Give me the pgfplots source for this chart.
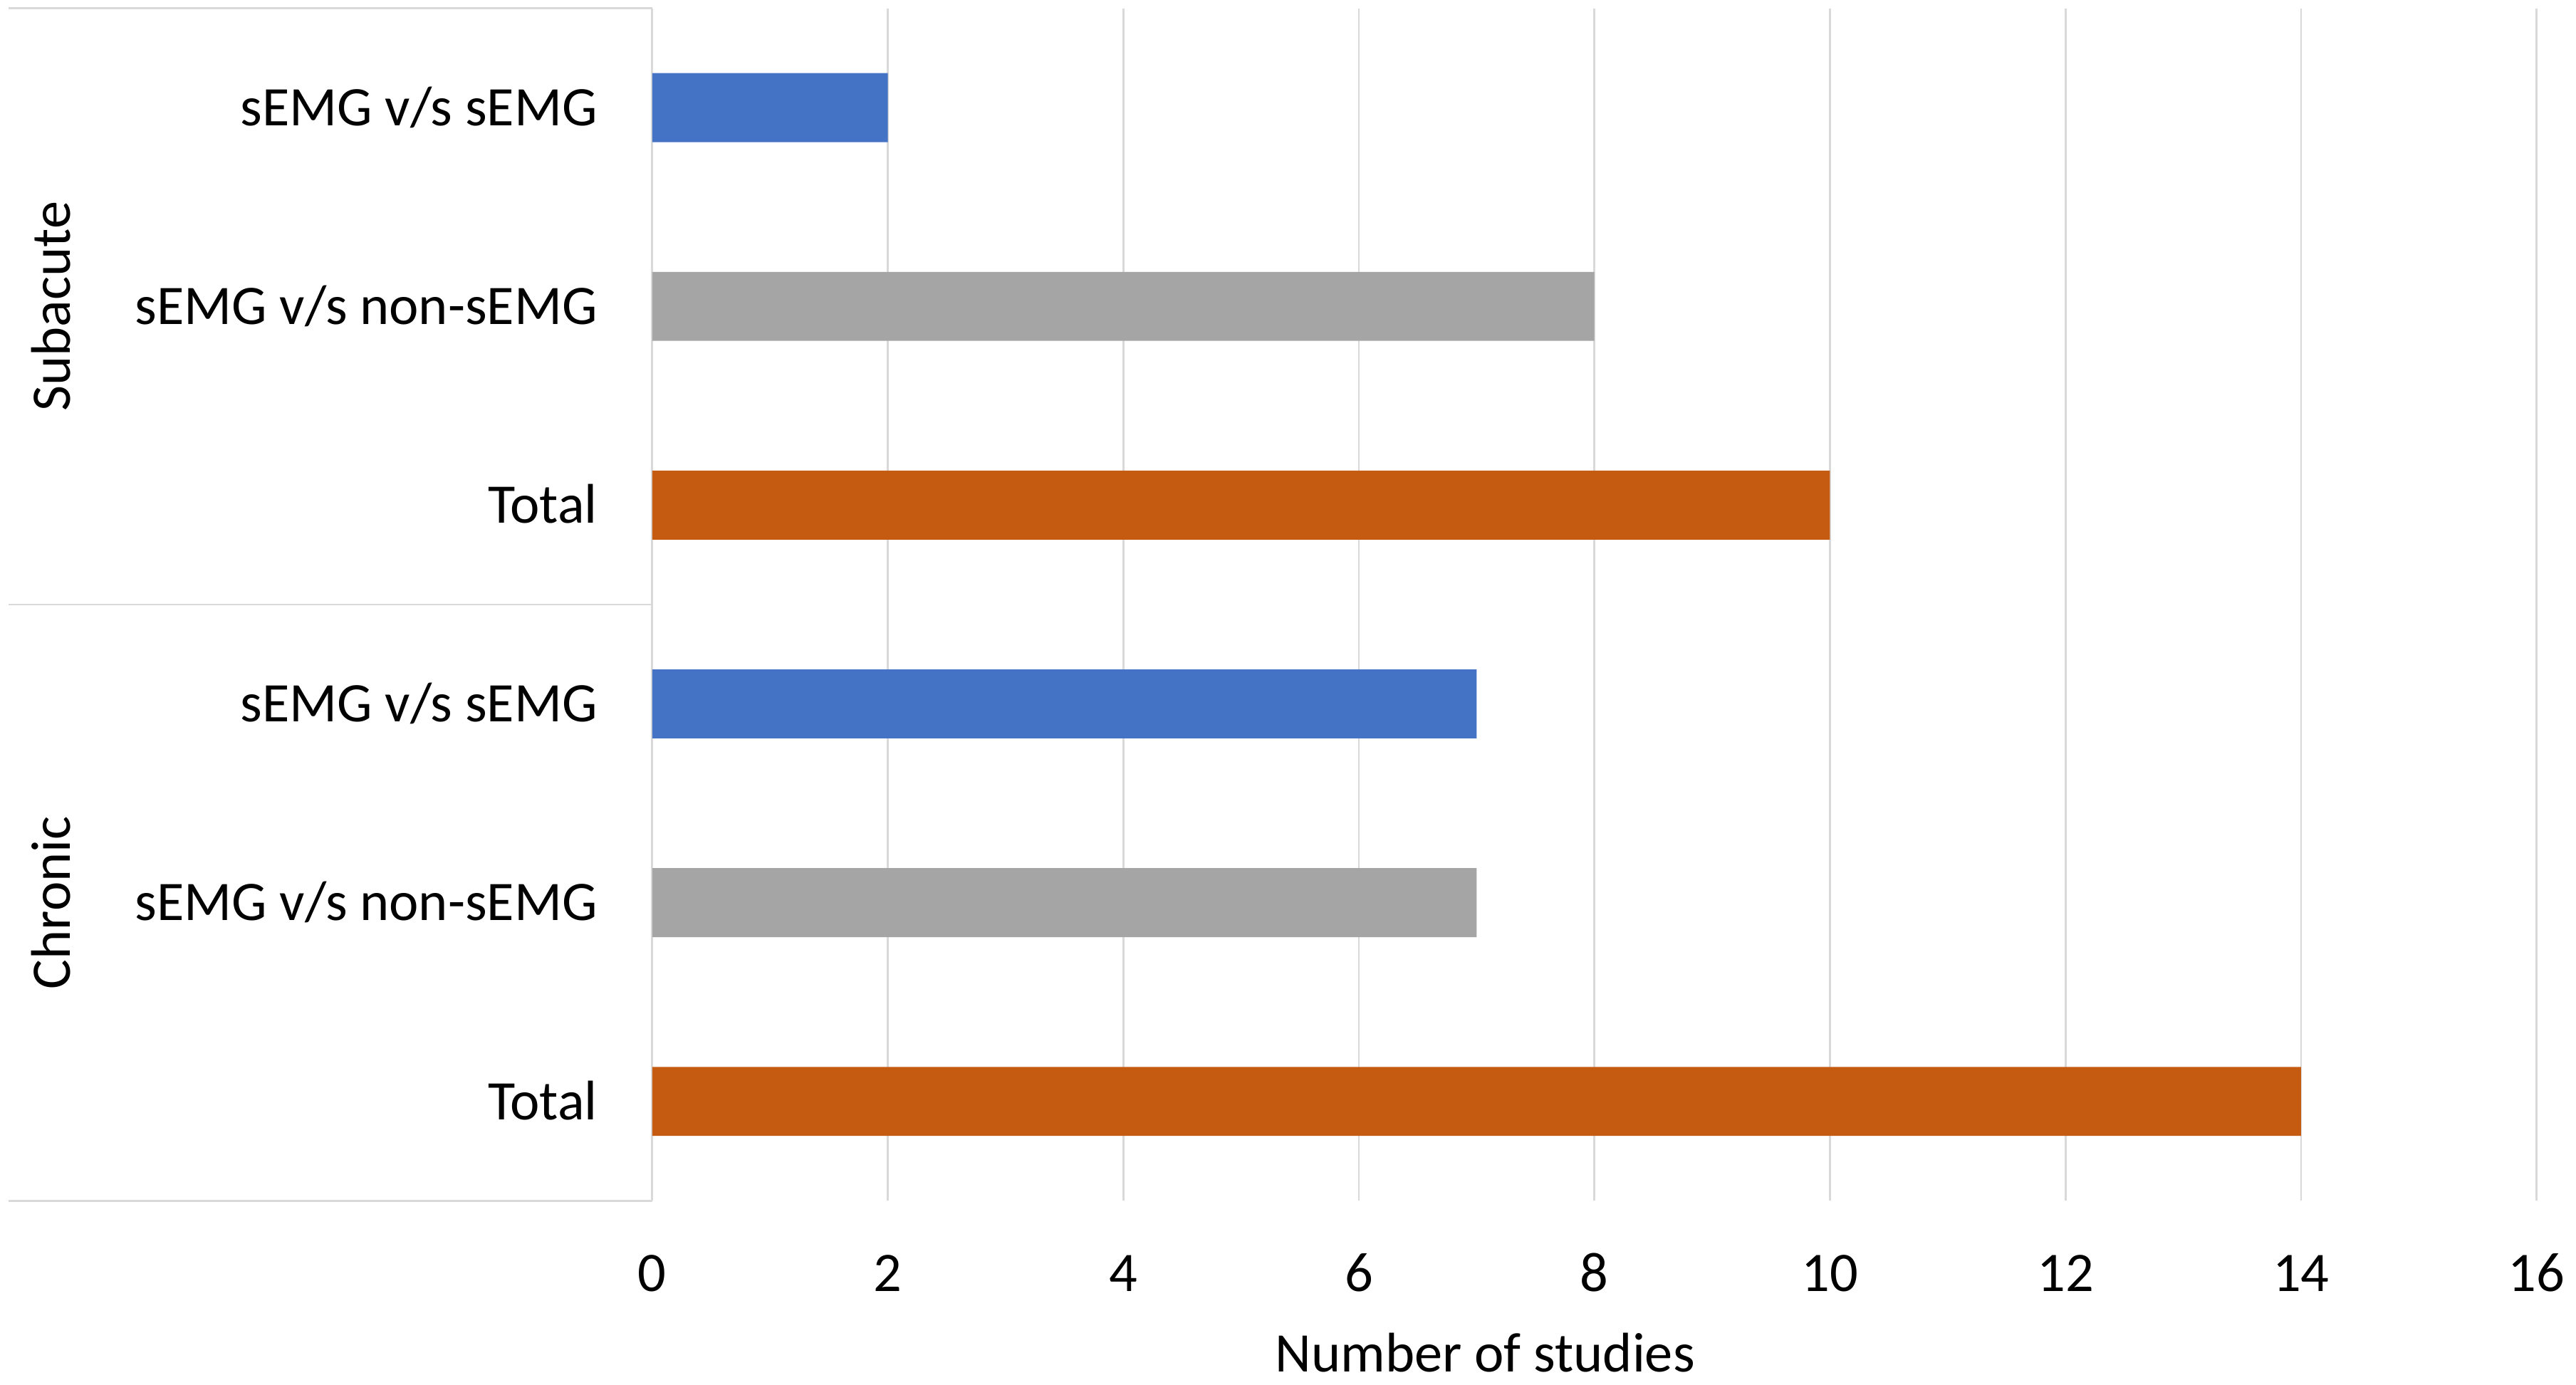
\documentclass[border=0pt]{standalone}
\usepackage{fontspec}
\setmainfont{Carlito}
\usepackage{pgfplots}
\pgfplotsset{compat=1.18}
\definecolor{cblue}{HTML}{4472C4}
\definecolor{cgray}{HTML}{A5A5A5}
\definecolor{corange}{HTML}{C55A11}
\definecolor{gridgray}{HTML}{D9D9D9}
\begin{document}
\fontsize{17}{20}\selectfont
\begin{tikzpicture}
\useasboundingbox (-198.5pt,-56pt) rectangle (585.5pt,365.5pt);
\begin{axis}[
  at={(0,0)}, anchor=south west,
  scale only axis, width=573.5pt, height=363pt,
  xmin=0, xmax=16, xtick={0,2,...,16},
  ymin=-0.5, ymax=5.5, y dir=reverse,
  ytick={0,...,5},
  yticklabels={sEMG v/s sEMG, sEMG v/s non-sEMG, Total, sEMG v/s sEMG, sEMG v/s non-sEMG, Total},
  xmajorgrids, grid style={color=gridgray, line width=0.6pt},
  axis line style={draw=none},
  major tick length=0pt,
  tick style={draw=none},
  /pgf/number format/assume math mode=true,
  xticklabel style={anchor=base, inner sep=0pt, yshift=-27.5pt},
  yticklabel style={anchor=base east, inner sep=0pt, xshift=-16.5pt, yshift=-5.5pt},
  xlabel={Number of studies},
  xlabel style={at={(rel axis cs:0.442,0)}, anchor=base, inner sep=0pt, yshift=-52pt},
  clip=false,
]
\addplot[xbar, bar width=21pt, bar shift=0pt, fill=cblue, draw=none] coordinates {(2,0) (7,3)};
\addplot[xbar, bar width=21pt, bar shift=0pt, fill=cgray, draw=none] coordinates {(8,1) (7,4)};
\addplot[xbar, bar width=21pt, bar shift=0pt, fill=corange, draw=none] coordinates {(10,2) (14,5)};
\draw[gridgray, line width=0.6pt] ([xshift=-196pt]axis cs:0,-0.5) -- (axis cs:0,-0.5);
\draw[gridgray, line width=0.6pt] ([xshift=-196pt]axis cs:0,2.5) -- (axis cs:0,2.5);
\draw[gridgray, line width=0.6pt] ([xshift=-196pt]axis cs:0,5.5) -- (axis cs:0,5.5);
\node[rotate=90, inner sep=0pt] at ([xshift=-183pt]axis cs:0,1) {Subacute};
\node[rotate=90, inner sep=0pt] at ([xshift=-183pt]axis cs:0,4) {Chronic};
\end{axis}
\end{tikzpicture}
\end{document}
